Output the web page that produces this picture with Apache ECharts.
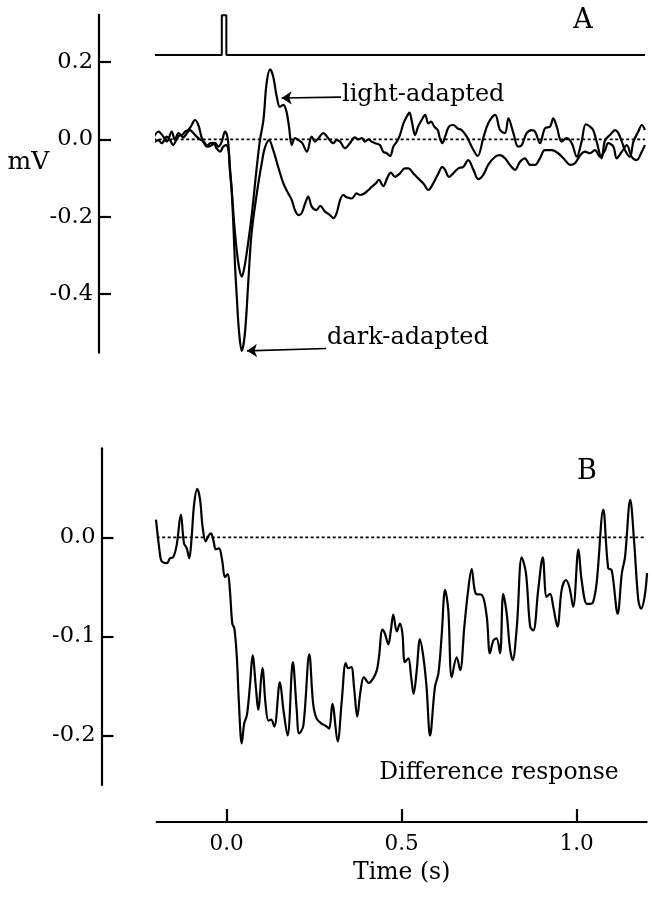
<!DOCTYPE html>
<html>
<head>
<meta charset="utf-8">
<script src="https://cdn.jsdelivr.net/npm/echarts@6/dist/echarts.min.js"></script>
<style>html,body{margin:0;padding:0;background:#fff}#c{width:655px;height:899px}</style>
</head>
<body>
<div id="c"></div>
<script>
// ---- data (time in s, response in mV) ----
const stimulus = [[-0.21,0.218],[-0.014,0.218],[-0.014,0.321],[-0.001,0.321],[-0.001,0.218],[1.195,0.218]];

const lightAdapted = [[-0.210,0.003],[-0.195,0.020],[-0.181,0.007],[-0.171,-0.006],[-0.157,0.020],[-0.148,-0.002],[-0.138,0.016],[-0.129,0.011],[-0.119,0.020],[-0.110,0.024],[-0.100,0.037],[-0.091,0.050],[-0.081,0.037],[-0.071,0.003],[-0.062,-0.010],[-0.053,-0.019],[-0.043,-0.015],[-0.033,-0.010],[-0.024,-0.019],[-0.014,-0.006],[-0.005,0.020],[0.002,0.007],[0.006,-0.028],[0.009,-0.070],[0.014,-0.125],[0.019,-0.190],[0.024,-0.245],[0.029,-0.290],[0.036,-0.335],[0.043,-0.355],[0.049,-0.338],[0.057,-0.295],[0.071,-0.200],[0.086,-0.071],[0.095,-0.002],[0.105,0.050],[0.114,0.145],[0.124,0.181],[0.133,0.162],[0.143,0.110],[0.152,0.084],[0.162,0.089],[0.171,0.071],[0.178,0.033],[0.186,-0.015],[0.195,0.003],[0.205,-0.002],[0.216,-0.010],[0.229,-0.032],[0.243,0.007],[0.252,-0.006],[0.262,0.003],[0.276,0.016],[0.290,0.003],[0.305,-0.010],[0.314,-0.002],[0.324,-0.006],[0.338,-0.023],[0.352,-0.010],[0.366,0.005],[0.376,0.000],[0.386,0.003],[0.395,-0.006],[0.405,0.000],[0.414,-0.006],[0.424,-0.010],[0.438,-0.015],[0.447,-0.032],[0.457,-0.036],[0.467,-0.043],[0.476,-0.019],[0.486,-0.006],[0.495,0.011],[0.505,0.041],[0.514,0.058],[0.522,0.069],[0.530,0.041],[0.538,0.011],[0.547,0.033],[0.557,0.050],[0.567,0.063],[0.576,0.041],[0.584,0.046],[0.593,0.033],[0.603,0.024],[0.609,0.003],[0.616,-0.010],[0.624,0.007],[0.635,0.033],[0.647,0.037],[0.660,0.028],[0.671,0.024],[0.686,0.007],[0.700,-0.019],[0.717,-0.043],[0.733,0.003],[0.747,0.041],[0.767,0.063],[0.781,0.024],[0.795,0.016],[0.805,0.054],[0.819,0.016],[0.833,-0.019],[0.843,-0.015],[0.857,0.016],[0.871,0.024],[0.881,0.020],[0.895,-0.010],[0.909,0.028],[0.924,0.033],[0.933,0.054],[0.943,0.033],[0.957,-0.006],[0.971,0.003],[0.986,-0.010],[1.000,-0.045],[1.014,-0.006],[1.026,0.039],[1.038,0.033],[1.047,0.024],[1.057,-0.006],[1.071,-0.049],[1.081,-0.002],[1.095,0.011],[1.110,0.024],[1.119,0.016],[1.129,-0.006],[1.138,-0.028],[1.152,-0.045],[1.162,-0.006],[1.176,0.020],[1.186,0.037],[1.195,0.024]];

const darkAdapted = [[-0.210,-0.010],[-0.195,-0.002],[-0.186,-0.010],[-0.171,0.007],[-0.162,-0.002],[-0.153,-0.015],[-0.143,0.000],[-0.133,0.011],[-0.124,0.005],[-0.114,0.016],[-0.105,0.024],[-0.095,0.016],[-0.086,0.007],[-0.076,0.000],[-0.067,-0.006],[-0.057,-0.019],[-0.048,-0.010],[-0.038,-0.009],[-0.029,-0.023],[-0.019,-0.032],[-0.010,-0.019],[-0.002,-0.015],[0.005,-0.028],[0.009,-0.080],[0.014,-0.131],[0.019,-0.220],[0.024,-0.330],[0.029,-0.410],[0.035,-0.495],[0.043,-0.547],[0.052,-0.502],[0.062,-0.364],[0.071,-0.243],[0.086,-0.140],[0.100,-0.062],[0.109,-0.022],[0.121,-0.002],[0.133,-0.028],[0.147,-0.071],[0.162,-0.114],[0.176,-0.140],[0.186,-0.157],[0.195,-0.183],[0.205,-0.196],[0.214,-0.191],[0.224,-0.166],[0.233,-0.148],[0.243,-0.174],[0.257,-0.183],[0.267,-0.172],[0.281,-0.187],[0.295,-0.196],[0.305,-0.204],[0.314,-0.191],[0.324,-0.157],[0.333,-0.144],[0.343,-0.150],[0.357,-0.153],[0.371,-0.140],[0.381,-0.144],[0.393,-0.140],[0.405,-0.131],[0.414,-0.123],[0.426,-0.114],[0.435,-0.105],[0.447,-0.121],[0.460,-0.097],[0.469,-0.086],[0.481,-0.097],[0.495,-0.088],[0.509,-0.075],[0.519,-0.075],[0.533,-0.088],[0.547,-0.101],[0.562,-0.114],[0.576,-0.131],[0.590,-0.114],[0.605,-0.088],[0.616,-0.071],[0.624,-0.079],[0.635,-0.097],[0.647,-0.088],[0.662,-0.075],[0.676,-0.071],[0.690,-0.054],[0.705,-0.079],[0.719,-0.103],[0.733,-0.092],[0.747,-0.066],[0.767,-0.045],[0.781,-0.041],[0.795,-0.049],[0.809,-0.066],[0.824,-0.079],[0.838,-0.058],[0.852,-0.049],[0.867,-0.066],[0.881,-0.066],[0.895,-0.049],[0.909,-0.028],[0.929,-0.028],[0.947,-0.036],[0.967,-0.054],[0.981,-0.066],[0.995,-0.062],[1.010,-0.041],[1.024,-0.032],[1.038,-0.036],[1.052,-0.028],[1.067,-0.045],[1.081,-0.028],[1.090,-0.010],[1.105,-0.019],[1.114,-0.049],[1.129,-0.032],[1.143,-0.015],[1.157,-0.045],[1.171,-0.054],[1.186,-0.032],[1.195,-0.015]];

const differenceResponse = [[-0.202,0.018],[-0.191,-0.016],[-0.186,-0.024],[-0.171,-0.026],[-0.162,-0.021],[-0.153,-0.020],[-0.143,-0.008],[-0.131,0.023],[-0.122,-0.006],[-0.114,-0.011],[-0.107,-0.021],[-0.100,0.001],[-0.093,0.034],[-0.084,0.049],[-0.076,0.038],[-0.069,0.011],[-0.060,-0.004],[-0.053,0.001],[-0.045,0.004],[-0.038,-0.003],[-0.031,-0.012],[-0.022,-0.011],[-0.013,-0.023],[-0.005,-0.040],[0.003,-0.037],[0.009,-0.053],[0.016,-0.087],[0.022,-0.092],[0.029,-0.121],[0.035,-0.168],[0.043,-0.208],[0.050,-0.188],[0.058,-0.179],[0.067,-0.147],[0.074,-0.119],[0.084,-0.154],[0.090,-0.174],[0.102,-0.132],[0.111,-0.168],[0.119,-0.185],[0.127,-0.184],[0.136,-0.191],[0.152,-0.146],[0.162,-0.174],[0.174,-0.200],[0.189,-0.126],[0.200,-0.174],[0.207,-0.198],[0.219,-0.190],[0.236,-0.118],[0.247,-0.168],[0.257,-0.183],[0.271,-0.188],[0.286,-0.191],[0.293,-0.193],[0.302,-0.168],[0.317,-0.206],[0.329,-0.164],[0.340,-0.127],[0.347,-0.132],[0.356,-0.131],[0.364,-0.152],[0.373,-0.181],[0.382,-0.156],[0.392,-0.141],[0.406,-0.147],[0.419,-0.142],[0.429,-0.134],[0.435,-0.121],[0.445,-0.093],[0.452,-0.097],[0.462,-0.108],[0.469,-0.094],[0.476,-0.078],[0.486,-0.095],[0.495,-0.087],[0.502,-0.097],[0.509,-0.126],[0.519,-0.122],[0.527,-0.141],[0.534,-0.158],[0.543,-0.134],[0.552,-0.103],[0.562,-0.121],[0.571,-0.151],[0.581,-0.200],[0.595,-0.151],[0.605,-0.137],[0.614,-0.100],[0.624,-0.053],[0.633,-0.073],[0.643,-0.141],[0.657,-0.121],[0.667,-0.134],[0.679,-0.090],[0.690,-0.053],[0.700,-0.032],[0.712,-0.057],[0.729,-0.058],[0.743,-0.080],[0.752,-0.117],[0.762,-0.104],[0.771,-0.102],[0.781,-0.117],[0.790,-0.057],[0.800,-0.077],[0.809,-0.111],[0.817,-0.124],[0.829,-0.090],[0.843,-0.020],[0.855,-0.036],[0.867,-0.090],[0.876,-0.094],[0.890,-0.053],[0.903,-0.020],[0.914,-0.060],[0.924,-0.057],[0.933,-0.070],[0.945,-0.090],[0.957,-0.053],[0.969,-0.043],[0.979,-0.050],[0.990,-0.070],[1.005,-0.012],[1.014,-0.043],[1.029,-0.067],[1.038,-0.067],[1.047,-0.065],[1.057,-0.046],[1.076,0.028],[1.090,-0.031],[1.100,-0.033],[1.117,-0.077],[1.129,-0.036],[1.138,-0.020],[1.153,0.038],[1.164,-0.004],[1.176,-0.063],[1.184,-0.072],[1.194,-0.060],[1.201,-0.036]];

const zeroLineA = [[-0.21,0],[1.195,0]];
const zeroLineB = [[-0.2,0],[1.195,0]];

const xTicks = [0, 0.5, 1.0];
const yTicksA = [-0.4, -0.2, 0.0, 0.2];
const yTicksB = [-0.2, -0.1, 0.0];

// annotation arrows (data coords: [time, mV])
const arrowLight = [[0.327, 0.109], [0.157, 0.107]];
const arrowDark = [[0.284, -0.541], [0.058, -0.547]];

const FONT = 'DejaVu Serif';
const INK = '#000';

const chart = echarts.init(document.getElementById('c'), null, {renderer: 'canvas'});

function yAxisCfg(grid, min, max, offset, ticks) {
  return {
    type: 'value', gridIndex: grid, min: min, max: max, offset: offset,
    axisLine: {show: true, onZero: false, lineStyle: {color: INK, width: 2.2}},
    axisTick: {show: true, inside: true, length: 12, customValues: ticks, lineStyle: {color: INK, width: 2.2}},
    axisLabel: {customValues: ticks, formatter: v => v.toFixed(1), margin: 6, color: INK, fontFamily: FONT, fontSize: 22.5},
    splitLine: {show: false}
  };
}

const lineBase = {type: 'line', showSymbol: false, symbol: 'none', clip: false, silent: true};

chart.setOption({
  animation: false,
  backgroundColor: '#fff',
  grid: [
    {left: 156.7, right: 8.3, top: 14.8, height: 338},
    {left: 156.7, right: 8.3, top: 448.3, height: 336.7}
  ],
  xAxis: [
    {type: 'value', gridIndex: 0, min: -0.2, max: 1.2, show: false},
    {type: 'value', gridIndex: 1, min: -0.2, max: 1.2, offset: 37,
     axisLine: {show: true, onZero: false, lineStyle: {color: INK, width: 2.2}},
     axisTick: {show: true, inside: true, length: 13, customValues: xTicks, lineStyle: {color: INK, width: 2.2}},
     axisLabel: {customValues: xTicks, formatter: v => v.toFixed(1), margin: 11, color: INK, fontFamily: FONT, fontSize: 21.5},
     splitLine: {show: false},
     name: 'Time (s)', nameLocation: 'middle', nameGap: 39,
     nameTextStyle: {color: INK, fontFamily: FONT, fontSize: 23.5}
    }
  ],
  yAxis: [
    yAxisCfg(0, -0.552, 0.322, 57.7, yTicksA),
    yAxisCfg(1, -0.25, 0.09, 55.2, yTicksB)
  ],
  series: [
    Object.assign({}, lineBase, {name: 'stimulus', xAxisIndex: 0, yAxisIndex: 0, data: stimulus,
      lineStyle: {color: INK, width: 2}}),
    Object.assign({}, lineBase, {name: 'zeroA', xAxisIndex: 0, yAxisIndex: 0, data: zeroLineA,
      lineStyle: {color: INK, width: 1.8, type: [3, 2.5]}}),
    Object.assign({}, lineBase, {name: 'light-adapted', xAxisIndex: 0, yAxisIndex: 0, data: lightAdapted,
      smooth: 0.35, lineStyle: {color: INK, width: 2.2},
      markLine: {silent: true, symbol: ['none', 'arrow'], symbolSize: 10, animation: false,
        label: {show: false}, lineStyle: {color: INK, width: 1.6, type: 'solid'},
        data: [
          [{coord: arrowLight[0]}, {coord: arrowLight[1]}],
          [{coord: arrowDark[0]}, {coord: arrowDark[1]}]
        ]}}),
    Object.assign({}, lineBase, {name: 'dark-adapted', xAxisIndex: 0, yAxisIndex: 0, data: darkAdapted,
      smooth: 0.35, lineStyle: {color: INK, width: 2.2}}),
    Object.assign({}, lineBase, {name: 'zeroB', xAxisIndex: 1, yAxisIndex: 1, data: zeroLineB,
      lineStyle: {color: INK, width: 1.8, type: [3, 2.5]}}),
    Object.assign({}, lineBase, {name: 'difference', xAxisIndex: 1, yAxisIndex: 1, data: differenceResponse,
      smooth: 0.35, lineStyle: {color: INK, width: 2.2}})
  ],
  graphic: [
    {type: 'text', x: 583, y: 21, style: {text: 'A', font: '27px "DejaVu Serif"', fill: INK, textAlign: 'center', textVerticalAlign: 'middle'}},
    {type: 'text', x: 587, y: 472, style: {text: 'B', font: '27px "DejaVu Serif"', fill: INK, textAlign: 'center', textVerticalAlign: 'middle'}},
    {type: 'text', x: 28.5, y: 162, style: {text: 'mV', font: '25px "DejaVu Serif"', fill: INK, textAlign: 'center', textVerticalAlign: 'middle'}},
    {type: 'text', x: 342, y: 95, style: {text: 'light-adapted', font: '24px "DejaVu Serif"', fill: INK, textAlign: 'left', textVerticalAlign: 'middle'}},
    {type: 'text', x: 327, y: 338, style: {text: 'dark-adapted', font: '24px "DejaVu Serif"', fill: INK, textAlign: 'left', textVerticalAlign: 'middle'}},
    {type: 'text', x: 499, y: 773, style: {text: 'Difference response', font: '23.5px "DejaVu Serif"', fill: INK, textAlign: 'center', textVerticalAlign: 'middle'}}
  ]
});
</script>
</body>
</html>
